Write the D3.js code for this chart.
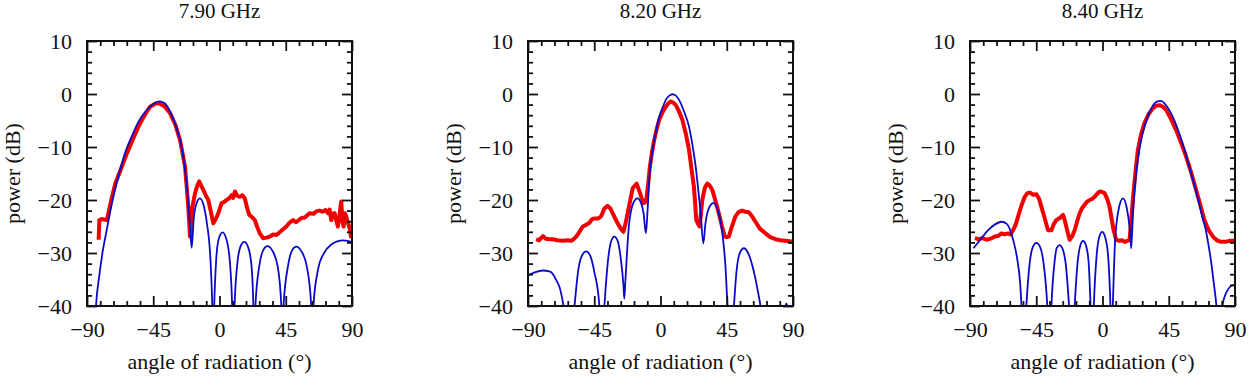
<!DOCTYPE html>
<html>
<head>
<meta charset="utf-8">
<script src="https://cdn.jsdelivr.net/npm/d3@7"></script>
<style>
  body { margin: 0; background: #fff; }
  svg { display: block; }
  text { font-family: "Liberation Serif", "Times New Roman", serif; fill: #111; }
</style>
</head>
<body>
<svg id="chart"></svg>
<script>
// panel titles and axis ticks
const frequencies = ["7.90 GHz", "8.20 GHz", "8.40 GHz"];
const xTicks = [-90, -45, 0, 45, 90];
const yTicks = [10, 0, -10, -20, -30, -40];

const measured790 = [[-82.1,-27.5],[-81.6,-23.8],[-80,-23.6],[-76.5,-23.8],[-73.5,-20],[-70.8,-16.9],[-67,-14.2],[-62.9,-11.2],[-58,-8],[-53.9,-5.5],[-50,-3.6],[-47.1,-2.4],[-43.5,-1.8],[-40.8,-1.8],[-37.5,-2.3],[-33.6,-3.6],[-30,-5.8],[-26.8,-8.7],[-23.4,-13.7],[-21.2,-21.3],[-20,-26.9],[-18.5,-21.5],[-16.6,-18.7],[-15,-17.2],[-13.7,-16.5],[-12.3,-17.4],[-11,-18.1],[-9.2,-19.2],[-7.6,-20],[-5.8,-22.3],[-4.2,-24.4],[-2.5,-23.6],[-0.8,-22.5],[1.4,-20.6],[3,-20.4],[4.8,-20],[6.5,-19.7],[8.2,-19.1],[9.2,-19.6],[10.5,-18.4],[12,-19.2],[13.8,-19.4],[15.5,-19.1],[17.2,-19.7],[18.8,-21.5],[20.2,-22.8],[22,-23.2],[24,-23.8],[25.5,-25],[27.4,-26.3],[29.6,-27.2],[32,-27.1],[34.2,-26.9],[36.5,-26.5],[38.7,-26.6],[42,-25.8],[45.4,-25],[47.5,-24.3],[50,-23.8],[52,-24.2],[55.6,-23.4],[58,-23.3],[61.2,-22.5],[64,-22.6],[66,-22.1],[68,-22],[70,-22.2],[72,-21.9],[73.7,-22.5],[74.8,-21.8],[75.9,-23.8],[77,-22.6],[78.2,-22.5],[79.3,-23.9],[80.4,-25],[81.5,-22.8],[82.7,-20.3],[83.5,-24],[84.3,-25],[85.2,-22.5],[86,-23.1],[87.5,-24.5],[88.5,-25.5],[89.5,-27.2]];
const theory790 = [[-85,-46],[-83.9,-40],[-81.5,-34],[-79.8,-30.5],[-76.5,-25.5],[-73,-20.5],[-68.5,-15.3],[-64,-11],[-59,-7.6],[-55,-5.2],[-50,-3.2],[-45,-1.9],[-41,-1.4],[-37,-1.8],[-33.6,-3.3],[-29,-6.5],[-25.7,-10],[-22.3,-17],[-20.5,-23],[-18.9,-29],[-17.5,-23.5],[-15.8,-20.8],[-13.3,-19.7],[-10.8,-21],[-8.5,-24.5],[-6.2,-31],[-4.9,-40],[-4.3,-48],[-3.6,-40],[-2.3,-31.5],[-0.5,-27.3],[2.1,-26.1],[4.6,-27.3],[7,-31.5],[8.6,-40],[9.3,-48],[10.2,-40],[12.3,-31.5],[14.5,-28.6],[16.8,-27.9],[19.3,-28.8],[21.6,-32],[23,-40],[23.6,-48],[24.4,-40],[27,-32.5],[29.8,-29.4],[32.6,-28.7],[35.8,-29.5],[39.5,-32.5],[42,-40],[42.7,-48],[43.5,-40],[46.5,-32.5],[49.3,-29.5],[52.2,-28.8],[55.5,-29.6],[59.5,-32.8],[62.3,-40],[63,-48],[63.8,-40],[67,-33],[71,-30],[76,-28.4],[80,-27.8],[84,-27.6],[87,-27.7],[90,-27.9]];

const measured820 = [[-84.4,-27.4],[-82.5,-27.6],[-80.5,-27],[-79.8,-26.8],[-78,-27.3],[-75.5,-27.4],[-73.1,-27.4],[-70,-27.6],[-66.3,-27.7],[-63,-27.6],[-60.7,-27.7],[-59,-27.4],[-57.3,-26.9],[-55,-26],[-52.8,-25],[-50.5,-24.7],[-48.3,-24.3],[-46.5,-23.6],[-44.9,-23.5],[-42.5,-23.5],[-40.4,-23.1],[-38.1,-21.6],[-35.9,-21.1],[-34,-21.6],[-32.5,-22.5],[-29.1,-24.4],[-27,-25.4],[-25.2,-26],[-23.8,-24.5],[-22.3,-22.5],[-20.5,-20],[-18.9,-17.8],[-16.2,-16.9],[-13.9,-18.7],[-11.7,-20.6],[-10.5,-20.5],[-9.5,-19.7],[-8.4,-17],[-7.2,-13.7],[-5.8,-11],[-4.3,-8.7],[-2.5,-6.5],[-0.9,-4.9],[1.3,-3.5],[3.6,-2.4],[5.2,-1.8],[6.9,-1.4],[8.6,-1.6],[10.4,-2.1],[12.6,-3.3],[14.9,-4.9],[17.2,-7.5],[19.4,-10.6],[21,-14],[22.7,-17.5],[23.5,-20.5],[24.3,-23.8],[25.5,-24.5],[26.5,-25],[27.5,-22.5],[28.4,-20],[30,-17.8],[31.8,-16.9],[33.5,-17.3],[35.2,-18.1],[37.5,-20.3],[39.6,-22.5],[41.8,-25],[43.7,-26.9],[45,-27],[46.4,-26.9],[48.5,-25],[50.9,-23.1],[53,-22.3],[55.5,-22],[57.5,-22.2],[60,-22.3],[62,-23],[64.5,-24.1],[67.5,-25.4],[71.3,-26.3],[74.5,-27],[78.1,-27.4],[81.5,-27.6],[84.8,-27.7],[87.5,-27.8],[90,-27.9]];
const theory820 = [[-90,-34.2],[-85,-33.6],[-80,-33.3],[-75,-33.5],[-70.8,-35.1],[-68,-37],[-65.9,-40],[-62,-52],[-58.4,-40],[-56,-33.5],[-53.5,-30.6],[-50.5,-29.7],[-47.5,-30.7],[-45,-33.5],[-41.5,-40],[-39.8,-48],[-38.1,-40],[-35.5,-31],[-33.5,-27.8],[-31.4,-26.9],[-29,-27.8],[-27,-31],[-25.2,-36],[-24.6,-38.6],[-23.8,-35],[-21.5,-25],[-18.5,-20.6],[-15.6,-19.7],[-13.3,-20.5],[-11.5,-22.5],[-9.9,-26.3],[-8.8,-22],[-7.5,-15.5],[-5.4,-10.6],[-3,-7],[-0.9,-4.3],[1.5,-2.5],[3.6,-1.1],[6,-0.3],[8.1,-0.05],[10.4,-0.3],[12.6,-1.1],[16,-3.3],[19.4,-6.2],[21.8,-9.8],[23.9,-13.7],[25.8,-18.5],[27.3,-22.5],[29.1,-28.2],[30.5,-24.5],[32.8,-21.6],[35.9,-20.6],[38.8,-21.8],[42,-26.3],[44,-32],[45.5,-40],[47.7,-52],[49.9,-40],[52,-32.5],[54.2,-29.8],[56.6,-29.1],[59.5,-30],[62.5,-32.5],[66,-37],[67.9,-40],[72,-50],[80,-50],[84,-41],[85.5,-39.5],[87,-41],[90,-46]];

const measured840 = [[-86.6,-27.2],[-84,-27.4],[-81.5,-27.2],[-78.7,-27.5],[-76,-27.3],[-73.1,-26.9],[-71,-26.8],[-68.6,-26.3],[-66.5,-26.5],[-64.1,-26.3],[-62.5,-26.5],[-60.7,-25.7],[-59,-24.7],[-57.3,-23.1],[-55,-21],[-52.8,-19.4],[-51,-18.7],[-49.4,-18.6],[-47,-19],[-44.9,-18.9],[-43,-19.8],[-41.5,-21.3],[-39.2,-23.5],[-37,-25.7],[-34.7,-25.7],[-33,-24.5],[-31.4,-23.8],[-29,-23.4],[-26.8,-22.8],[-25.5,-24],[-24.6,-25],[-23.3,-26.5],[-22.3,-27.5],[-20.5,-26.8],[-18.9,-25.7],[-17.2,-24],[-15.5,-22.5],[-13.8,-21.5],[-12.1,-20.9],[-10.4,-20.3],[-8.7,-20],[-7,-19.8],[-5.3,-19.4],[-3.6,-18.8],[-1.9,-18.4],[-0.2,-18.5],[1.4,-18.7],[3.2,-19.8],[4.8,-21.3],[6.2,-23.5],[7.5,-25.7],[9.3,-27.5],[11.5,-27.7],[13.3,-27.6],[15,-27.9],[16.8,-27.7],[18.4,-27.5],[19.5,-24],[20.6,-20],[22.3,-15],[24,-10.6],[26.3,-7.5],[28.5,-5.5],[31.3,-3.8],[34.2,-2.7],[36.5,-2.2],[38.7,-2.1],[41,-2.4],[43.2,-3],[46.5,-4.7],[50,-6.8],[53.4,-9.2],[56.8,-11.8],[60.2,-14.8],[63.6,-18.1],[66.5,-21],[69.2,-23.8],[72,-25.6],[74.9,-26.9],[77.7,-27.6],[80.5,-27.9],[83.5,-27.9],[86.5,-27.7],[90,-27.7]];
const theory840 = [[-87.7,-29.1],[-83,-27.5],[-78,-25.8],[-73,-24.6],[-68.6,-24.1],[-65,-24.5],[-60.7,-27.5],[-58,-31],[-56,-35.5],[-55,-40],[-53.3,-50],[-51.7,-40],[-49.5,-32],[-47.2,-28.8],[-44.9,-28.1],[-42.5,-28.8],[-40,-32],[-37.5,-40],[-36,-50],[-34.7,-40],[-32.5,-31.5],[-31,-29],[-29.1,-28.5],[-27,-29.3],[-25,-32],[-22.7,-40],[-20.6,-50],[-18.9,-40],[-16.8,-31.5],[-15,-28.5],[-13.2,-27.7],[-11.2,-28.6],[-9.5,-31.5],[-8.1,-40],[-7,-50],[-5.9,-40],[-4,-30.5],[-2.2,-27],[-0.2,-26],[1.8,-27],[3.8,-30.5],[5.4,-40],[6.2,-48],[7,-40],[8.5,-28],[10.8,-22],[13.9,-19.7],[16.5,-21.5],[18.5,-25.5],[19.5,-29.1],[20.6,-23],[22.8,-15],[24.5,-11.5],[26.2,-8.7],[28.5,-6.2],[30.7,-4.3],[33,-2.8],[35.2,-1.8],[37.5,-1.4],[39.7,-1.3],[42.5,-1.9],[45.3,-3],[48.5,-4.8],[52.1,-7.4],[55.5,-10.3],[58.9,-13.7],[62.3,-17.1],[65.6,-20.6],[68,-23.4],[70.2,-25.7],[72,-28.5],[73.6,-31.3],[75.5,-35.5],[77.4,-40],[79.4,-48],[81.4,-40],[84,-37.5],[87,-36.3],[90,-36]];

const width = 1249;
const height = 376;
const panelLeft = [87, 528, 970];
const plotTop = 41;
const plotW = 265;
const plotH = 265;

const svg = d3.select("#chart")
  .attr("width", width)
  .attr("height", height);

const panels = [
  {title: frequencies[0], measured: measured790, theory: theory790},
  {title: frequencies[1], measured: measured820, theory: theory820},
  {title: frequencies[2], measured: measured840, theory: theory840}
];

const x = d3.scaleLinear().domain([-90, 90]).range([0, plotW]);
const y = d3.scaleLinear().domain([-40, 10]).range([plotH, 0]);

const xMinor = d3.range(-90, 91, 9).filter(d => !xTicks.includes(d));
const yMinor = d3.range(-40, 11, 2).filter(d => !yTicks.includes(d));

const line = d3.line().x(d => x(d[0])).y(d => y(d[1]));
const smoothLine = d3.line().x(d => x(d[0])).y(d => y(d[1])).curve(d3.curveMonotoneX);

panels.forEach((p, i) => {
  const g = svg.append("g")
    .attr("transform", `translate(${panelLeft[i]}, ${plotTop})`);

  g.append("clipPath").attr("id", "clip" + i)
    .append("rect").attr("width", plotW).attr("height", plotH);

  const lines = g.append("g").attr("clip-path", `url(#clip${i})`);

  lines.append("path")
    .datum(p.measured)
    .attr("fill", "none")
    .attr("stroke", "#f00000")
    .attr("stroke-width", 4)
    .attr("stroke-linejoin", "round")
    .attr("d", line);

  lines.append("path")
    .datum(p.theory)
    .attr("fill", "none")
    .attr("stroke", "#0a0ac8")
    .attr("stroke-width", 1.8)
    .attr("d", smoothLine);

  // inward ticks on all four sides, labels only bottom/left
  const addAxis = (axis, tr, ticks, size, labels) => {
    const a = g.append("g")
      .attr("transform", tr)
      .call(axis.tickValues(ticks).tickSize(-size).tickPadding(15)
        .tickFormat(labels ? d3.format("d") : ""));
    a.select(".domain").remove();
    a.selectAll("line").attr("stroke", "#111").attr("stroke-width", 1.8);
    a.selectAll("text")
      .attr("font-size", 22)
      .attr("font-family", '"Liberation Serif", "Times New Roman", serif')
      .attr("fill", "#111");
  };

  addAxis(d3.axisBottom(x), `translate(0,${plotH})`, xTicks, 10, true);
  addAxis(d3.axisBottom(x), `translate(0,${plotH})`, xMinor, 5, false);
  addAxis(d3.axisTop(x), "translate(0,0)", xTicks, 10, false);
  addAxis(d3.axisTop(x), "translate(0,0)", xMinor, 5, false);
  addAxis(d3.axisLeft(y), "translate(0,0)", yTicks, 10, true);
  addAxis(d3.axisLeft(y), "translate(0,0)", yMinor, 5, false);
  addAxis(d3.axisRight(y), `translate(${plotW},0)`, yTicks, 10, false);
  addAxis(d3.axisRight(y), `translate(${plotW},0)`, yMinor, 5, false);

  g.append("rect")
    .attr("width", plotW)
    .attr("height", plotH)
    .attr("fill", "none")
    .attr("stroke", "#111")
    .attr("stroke-width", 2);

  g.append("text")
    .attr("x", plotW / 2)
    .attr("y", -23)
    .attr("text-anchor", "middle")
    .attr("font-size", 21)
    .text(p.title);

  g.append("text")
    .attr("x", plotW / 2)
    .attr("y", 328)
    .attr("text-anchor", "middle")
    .attr("font-size", 22)
    .text("angle of radiation (°)");

  g.append("text")
    .attr("transform", `translate(-67, ${plotH / 2}) rotate(-90)`)
    .attr("text-anchor", "middle")
    .attr("font-size", 22)
    .text("power (dB)");
});
</script>
</body>
</html>
